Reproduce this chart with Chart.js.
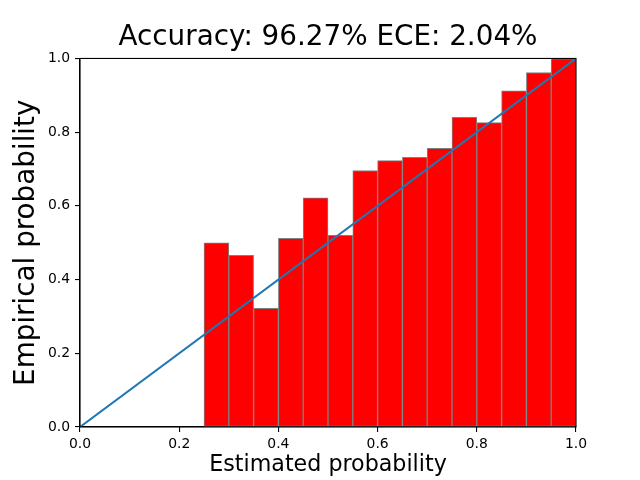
<!DOCTYPE html>
<html>
<head>
<meta charset="utf-8">
<script src="https://cdn.jsdelivr.net/npm/chart.js@4.4.0/dist/chart.umd.min.js"></script>
<style>
  html, body { margin: 0; padding: 0; background: #fff; }
  #wrap { width: 640px; height: 480px; }
</style>
</head>
<body>
<div id="wrap"><canvas id="myChart" width="640" height="480"></canvas></div>
<script>
// reliability diagram data
const binCenters = [0.275, 0.325, 0.375, 0.425, 0.475, 0.525, 0.575, 0.625, 0.675, 0.725, 0.775, 0.825, 0.875, 0.925, 0.975];
const empirical  = [0.50, 0.466, 0.322, 0.512, 0.622, 0.520, 0.696, 0.723, 0.732, 0.756, 0.840, 0.826, 0.912, 0.962, 1.0];
const diagX = [0, 1];
const diagY = [0, 1];
const xTicks = [0, 0.2, 0.4, 0.6, 0.8, 1.0];
const yTicks = [0, 0.2, 0.4, 0.6, 0.8, 1.0];
const titleText = 'Accuracy: 96.27% ECE: 2.04%';

Chart.defaults.font.family = '"DejaVu Sans", sans-serif';
Chart.defaults.color = '#000';

// box around the plot area (matplotlib spines)
const frame = {
    id: 'frame',
    afterDatasetsDraw(chart) {
        const a = chart.chartArea;
        const c = chart.ctx;
        c.save();
        c.strokeStyle = '#000';
        c.lineWidth = 1.1;
        c.strokeRect(a.left, a.top, a.right - a.left, a.bottom - a.top);
        c.restore();
    }
};

const ctx = document.querySelector('#myChart');
const myChart = new Chart(ctx, {
    data: {
        datasets: [{
            type: 'line',
            data: diagX.map((x, i) => ({x: x, y: diagY[i]})),
            borderColor: '#1f77b4',
            borderWidth: 2,
            pointRadius: 0,
            fill: false,
            order: 0
        }, {
            type: 'bar',
            data: binCenters.map((x, i) => ({x: x, y: empirical[i]})),
            backgroundColor: '#ff0000',
            borderColor: '#808080',
            borderWidth: 1,
            borderSkipped: false,
            barPercentage: 1,
            categoryPercentage: 1,
            order: 1
        }]
    },
    options: {
        responsive: false,
        animation: false,
        events: [],
        layout: { padding: { left: 0, right: 64, top: 0, bottom: 0 } },
        plugins: {
            legend: { display: false },
            tooltip: { enabled: false },
            title: {
                display: true,
                fullSize: false,
                text: titleText,
                font: { size: 27.8, weight: 'normal', lineHeight: 1.2 },
                padding: { top: 20.7, bottom: 4.4 }
            }
        },
        scales: {
            x: {
                type: 'linear',
                min: 0,
                max: 1,
                offset: false,
                afterBuildTicks: s => { s.ticks = xTicks.map(v => ({value: v})); },
                afterFit: s => { s.height = 53; },
                ticks: {
                    font: { size: 13.9 },
                    padding: 4,
                    maxRotation: 0,
                    callback: v => v.toFixed(1)
                },
                grid: { offset: false, drawOnChartArea: false, drawTicks: true, tickLength: 5, color: '#000', lineWidth: 1.1 },
                border: { color: '#000', width: 1.1 },
                title: {
                    display: true,
                    text: 'Estimated probability',
                    font: { size: 22.2 },
                    padding: { top: 0, bottom: 1.2 }
                }
            },
            y: {
                type: 'linear',
                min: 0,
                max: 1,
                afterBuildTicks: s => { s.ticks = yTicks.map(v => ({value: v})); },
                afterFit: s => { s.width = 80; },
                ticks: {
                    font: { size: 13.9 },
                    padding: 5,
                    callback: v => v.toFixed(1)
                },
                grid: { drawOnChartArea: false, drawTicks: true, tickLength: 5, color: '#000', lineWidth: 1.1 },
                border: { color: '#000', width: 1.1 },
                title: {
                    display: true,
                    text: 'Empirical probability',
                    font: { size: 27.8 },
                    padding: { top: 10.2, bottom: 0 }
                }
            }
        }
    },
    plugins: [frame]
});
</script>
</body>
</html>
